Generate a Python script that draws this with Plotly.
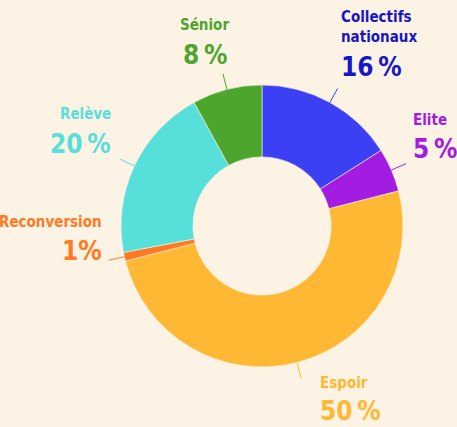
import math
import plotly.graph_objects as go

# ---- data ----
categories = ["Collectifs<br>nationaux", "Elite", "Espoir", "Reconversion", "Relève", "Sénior"]
values = [16, 5, 50, 1, 20, 8]
pct_labels = ["16\u2009%", "5\u2009%", "50\u2009%", "1%", "20\u2009%", "8\u2009%"]

# ---- styles ----
slice_colors = ["#3b40f5", "#a31ce2", "#ffb833", "#ff7a22", "#57dfda", "#4ca62d"]
text_colors = ["#1616c8", "#a31ce2", "#ffb833", "#ff7a22", "#57dfda", "#4ca62d"]
BG = "#fdf3e4"
FONT = "DejaVu Sans Condensed, DejaVu Sans, sans-serif"
W, H = 457, 427
CX, CY, R = 262, 226, 141          # pie centre / radius in pixels
HOLE = 0.49
LEAD_IN, LEAD_OUT = 141, 157

# label placement relative to the leader-line end: (dx, name_dy, pct_dy, anchor)
label_style = {
    0: (1, -61, -21, "left"),
    1: (5, -44, -15, "left"),
    2: (17, 5, 33, "left"),
    3: (-5, -38, -9, "right"),
    4: (-7, -45, -15, "right"),
    5: (-18, -49, -19, "center"),
}

def px(x):
    return x / W

def py(y):
    return 1 - y / H

fig = go.Figure()
fig.add_trace(go.Pie(
    labels=categories, values=values, sort=False, direction="clockwise", rotation=0,
    hole=HOLE, marker=dict(colors=slice_colors, line=dict(color=BG, width=0.6)),
    textinfo="none", hoverinfo="label+percent", showlegend=False,
    domain=dict(x=[px(CX - R), px(CX + R)], y=[py(CY + R), py(CY - R)]),
))

total = sum(values)
cum = 0
shapes, annotations = [], []
for i, v in enumerate(values):
    mid = (cum + v / 2) / total * 2 * math.pi
    cum += v
    s, c = math.sin(mid), math.cos(mid)
    x0, y0 = CX + LEAD_IN * s, CY - LEAD_IN * c
    x1, y1 = CX + LEAD_OUT * s, CY - LEAD_OUT * c
    shapes.append(dict(type="line", xref="paper", yref="paper",
                       x0=px(x0), y0=py(y0), x1=px(x1), y1=py(y1),
                       line=dict(color=slice_colors[i], width=1)))
    dx, ndy, pdy, anchor = label_style[i]
    annotations.append(dict(xref="paper", yref="paper", x=px(x1 + dx), y=py(y1 + ndy),
                            text="<b>" + categories[i] + "</b>", showarrow=False,
                            xanchor=anchor, yanchor="middle", align=anchor,
                            font=dict(family=FONT, size=15, color=text_colors[i])))
    annotations.append(dict(xref="paper", yref="paper", x=px(x1 + dx), y=py(y1 + pdy),
                            text="<b>" + pct_labels[i] + "</b>", showarrow=False,
                            xanchor=anchor, yanchor="middle", align=anchor,
                            font=dict(family=FONT, size=26, color=text_colors[i])))

fig.update_layout(
    width=W, height=H, margin=dict(l=0, r=0, t=0, b=0),
    paper_bgcolor=BG, plot_bgcolor=BG,
    shapes=shapes, annotations=annotations,
)
fig.write_html(
    "out.html",
    config={"displayModeBar": False},
    post_script="document.body.style.margin='0';document.body.style.overflow='hidden';"
                "document.body.style.background='" + BG + "';",
)
